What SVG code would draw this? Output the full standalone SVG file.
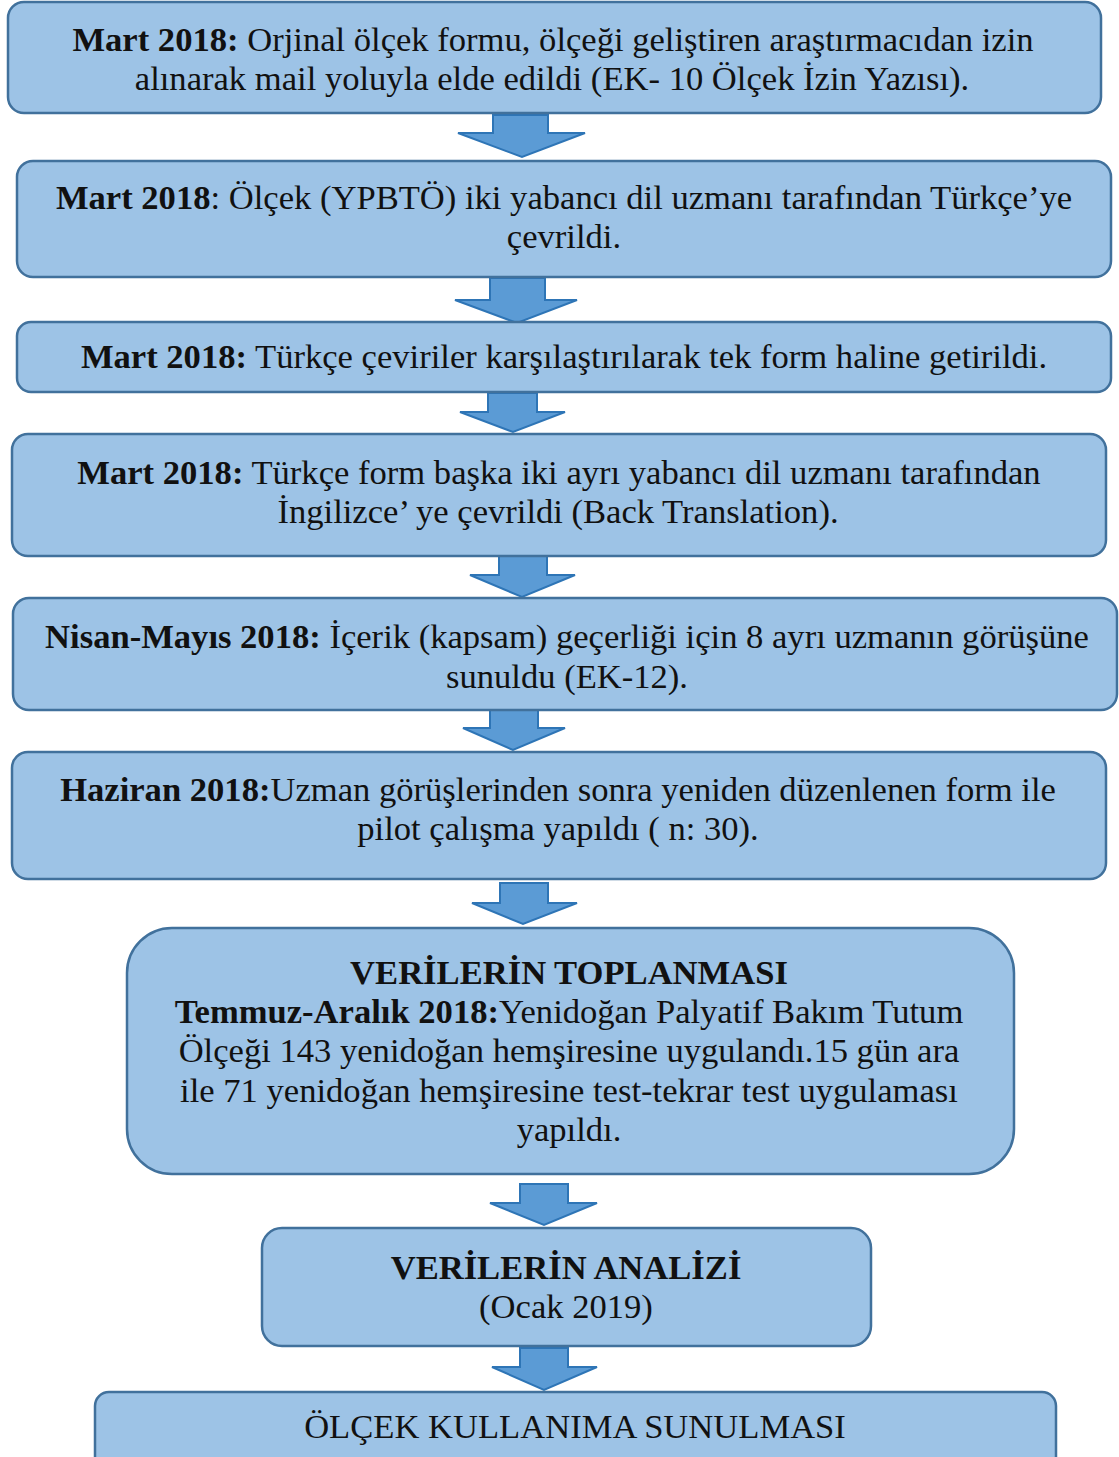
<svg xmlns="http://www.w3.org/2000/svg" width="1119" height="1457" viewBox="0 0 1119 1457">
<style>
.box{fill:#9dc3e6;stroke:#41719c;stroke-width:2.5}
.arr{fill:#5b9bd5;stroke:#2e75b6;stroke-width:2;stroke-linejoin:miter}
text{font-family:'Liberation Serif','Times New Roman',serif;font-size:34.6px;fill:#111;text-anchor:middle}
.b{font-weight:bold}
</style>
<rect width="1119" height="1457" fill="#fff"/>
<g id="connectors">
<path class="arr" d="M493,115 H548 V133 H585 L522,157 L458,133 H493 Z"/>
<path class="arr" d="M490,278 H545 V300 H577 L517,323 L455,300 H490 Z"/>
<path class="arr" d="M488,393 H537 V412 H565 L513,432 L460,412 H488 Z"/>
<path class="arr" d="M499,556 H547 V575 H575 L522,597 L470,575 H499 Z"/>
<path class="arr" d="M490,710 H538 V728 H565 L513,750 L463,728 H490 Z"/>
<path class="arr" d="M500,883 H548 V903 H577 L523,924 L472,903 H500 Z"/>
<path class="arr" d="M520,1184 H568 V1203 H597 L544,1225 L490,1203 H520 Z"/>
<path class="arr" d="M520,1348 H568 V1367 H597 L544,1390 L492,1367 H520 Z"/>
</g>
<g id="n1">
<rect class="box" x="8" y="2" width="1093" height="111" rx="16"/>
<text x="553" y="51"><tspan class="b">Mart 2018:</tspan> Orjinal ölçek formu, ölçeği geliştiren araştırmacıdan izin</text>
<text x="552" y="90">alınarak mail yoluyla elde edildi (EK- 10 Ölçek İzin Yazısı).</text>
</g>
<g id="n2">
<rect class="box" x="17" y="161" width="1094" height="116" rx="16"/>
<text x="564" y="209"><tspan class="b">Mart 2018</tspan>: Ölçek (YPBTÖ) iki yabancı dil uzmanı tarafından Türkçe’ye</text>
<text x="564" y="248">çevrildi.</text>
</g>
<g id="n3">
<rect class="box" x="17" y="322" width="1094" height="70" rx="14"/>
<text x="564" y="368"><tspan class="b">Mart 2018:</tspan> Türkçe çeviriler karşılaştırılarak tek form haline getirildi.</text>
</g>
<g id="n4">
<rect class="box" x="12" y="434" width="1094" height="122" rx="16"/>
<text x="559" y="484"><tspan class="b">Mart 2018:</tspan> Türkçe form başka iki ayrı yabancı dil uzmanı tarafından</text>
<text x="558" y="523">İngilizce’ ye çevrildi (Back Translation).</text>
</g>
<g id="n5">
<rect class="box" x="13" y="598" width="1104" height="112" rx="16"/>
<text x="567" y="648"><tspan class="b">Nisan-Mayıs 2018:</tspan> İçerik (kapsam) geçerliği için 8 ayrı uzmanın görüşüne</text>
<text x="567" y="688">sunuldu (EK-12).</text>
</g>
<g id="n6">
<rect class="box" x="12" y="752" width="1094" height="127" rx="16"/>
<text x="558" y="801"><tspan class="b">Haziran 2018:</tspan>Uzman görüşlerinden sonra yeniden düzenlenen form ile</text>
<text x="558" y="840">pilot çalışma yapıldı ( n: 30).</text>
</g>
<g id="n7">
<rect class="box" x="127" y="928" width="887" height="246" rx="45"/>
<text x="569" y="984" class="b">VERİLERİN TOPLANMASI</text>
<text x="569" y="1023"><tspan class="b">Temmuz-Aralık 2018:</tspan>Yenidoğan Palyatif Bakım Tutum</text>
<text x="569" y="1062">Ölçeği 143 yenidoğan hemşiresine uygulandı.15 gün ara</text>
<text x="569" y="1102">ile 71 yenidoğan hemşiresine test-tekrar test uygulaması</text>
<text x="569" y="1141">yapıldı.</text>
</g>
<g id="n8">
<rect class="box" x="262" y="1228" width="609" height="118" rx="20"/>
<text x="566" y="1279" class="b">VERİLERİN ANALİZİ</text>
<text x="566" y="1318">(Ocak 2019)</text>
</g>
<g id="n9">
<rect class="box" x="95" y="1392" width="961" height="80" rx="14"/>
<text x="575" y="1438">ÖLÇEK KULLANIMA SUNULMASI</text>
</g>
</svg>
